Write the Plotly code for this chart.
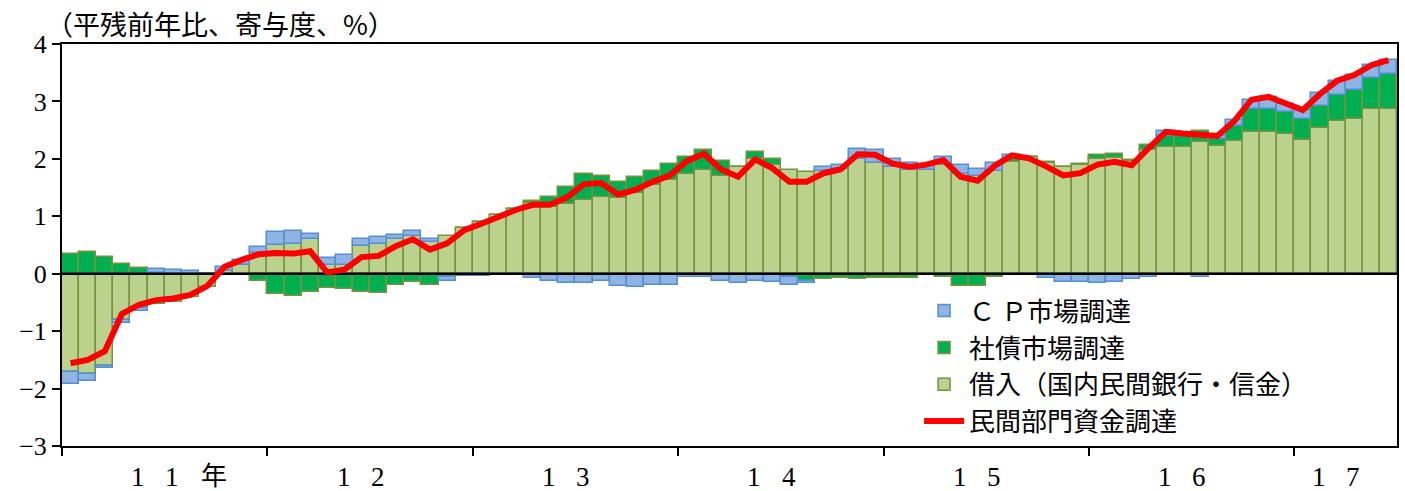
import plotly.graph_objects as go

# ---- data (monthly, Jan 2011 - Jun 2017) ----
loans = [-1.72, -1.74, -1.60, -0.81, -0.60, -0.53, -0.50, -0.41, -0.23, 0.05, 0.16, 0.36,
         0.50, 0.52, 0.60, 0.16, 0.16, 0.48, 0.51, 0.60, 0.65, 0.55, 0.65, 0.80,
         0.90, 1.02, 1.13, 1.24, 1.16, 1.21, 1.29, 1.34, 1.31, 1.41, 1.54, 1.64,
         1.74, 1.80, 1.70, 1.86, 1.99, 1.90, 1.80, 1.77, 1.79, 1.82, 2.00, 1.93,
         1.85, 1.81, 1.81, 1.90, 1.74, 1.70, 1.79, 1.95, 2.03, 1.93, 1.86, 1.89,
         2.00, 2.02, 1.97, 2.16, 2.21, 2.21, 2.29, 2.22, 2.31, 2.46, 2.47, 2.43,
         2.32, 2.53, 2.66, 2.70, 2.86, 2.86]
bonds = [0.35, 0.37, 0.29, 0.17, 0.10, 0.02, 0.00, 0.00, 0.00, 0.00, 0.00, -0.13,
         -0.36, -0.39, -0.31, -0.25, -0.26, -0.32, -0.33, -0.19, -0.15, -0.19, -0.06, 0.00,
         0.00, 0.00, 0.00, 0.02, 0.17, 0.30, 0.44, 0.36, 0.28, 0.27, 0.25, 0.27,
         0.29, 0.35, 0.26, 0.00, 0.13, 0.10, -0.06, -0.12, -0.10, -0.08, -0.10, -0.08,
         -0.07, -0.07, -0.02, -0.06, -0.21, -0.21, -0.05, 0.04, 0.00, 0.02, 0.00, 0.02,
         0.06, 0.07, 0.01, 0.09, 0.19, 0.20, 0.19, 0.12, 0.26, 0.40, 0.39, 0.39,
         0.38, 0.39, 0.45, 0.50, 0.54, 0.62]
cp = [-0.20, -0.12, -0.04, -0.05, -0.05, 0.06, 0.07, 0.05, 0.00, 0.07, 0.08, 0.11,
      0.22, 0.22, 0.10, 0.11, 0.17, 0.13, 0.13, 0.07, 0.10, 0.06, -0.06, -0.04,
      -0.04, -0.03, -0.02, -0.07, -0.13, -0.17, -0.17, -0.12, -0.21, -0.23, -0.19, -0.20,
      -0.05, -0.06, -0.13, -0.16, -0.13, -0.15, -0.14, -0.05, 0.07, 0.08, 0.18, 0.22,
      0.14, 0.12, 0.09, 0.14, 0.16, 0.13, 0.14, 0.07, -0.02, -0.07, -0.15, -0.15,
      -0.16, -0.15, -0.09, -0.05, 0.08, 0.03, -0.05, 0.06, 0.10, 0.16, 0.22, 0.14,
      0.15, 0.23, 0.25, 0.26, 0.23, 0.24]
total = [-1.56, -1.50, -1.35, -0.70, -0.54, -0.46, -0.43, -0.37, -0.21, 0.12, 0.24, 0.34,
         0.36, 0.35, 0.39, 0.02, 0.07, 0.29, 0.31, 0.48, 0.60, 0.42, 0.53, 0.76,
         0.87, 0.99, 1.11, 1.20, 1.20, 1.33, 1.56, 1.58, 1.38, 1.46, 1.60, 1.71,
         1.96, 2.09, 1.82, 1.69, 1.99, 1.84, 1.60, 1.60, 1.75, 1.82, 2.08, 2.07,
         1.92, 1.86, 1.90, 1.98, 1.69, 1.62, 1.88, 2.06, 2.01, 1.87, 1.71, 1.75,
         1.90, 1.95, 1.89, 2.19, 2.47, 2.44, 2.43, 2.40, 2.66, 3.03, 3.08, 2.96,
         2.85, 3.13, 3.36, 3.46, 3.63, 3.72]
years = ["1 1", "1 2", "1 3", "1 4", "1 5", "1 6", "1 7"]
months_in_year = [12, 12, 12, 12, 12, 12, 6]

names = {"cp": "Ｃ Ｐ市場調達", "bonds": "社債市場調達",
         "loans": "借入（国内民間銀行・信金）", "total": "民間部門資金調達"}

x = list(range(len(total)))
n = len(total)

CJK = "Noto Sans CJK JP"
SERIF = "Liberation Serif"

fig = go.Figure()
fig.add_trace(go.Bar(x=x, y=loans, name=names["loans"], legendrank=3, width=1,
                     marker=dict(color="#BBD18E", line=dict(color="#77933C", width=1.5))))
fig.add_trace(go.Bar(x=x, y=bonds, name=names["bonds"], legendrank=2, width=1,
                     marker=dict(color="#00B050", line=dict(color="#77933C", width=1.5))))
fig.add_trace(go.Bar(x=x, y=cp, name=names["cp"], legendrank=1, width=1,
                     marker=dict(color="#8DB4E2", line=dict(color="#558ED5", width=1.5))))
# zero line
fig.add_trace(go.Scatter(x=[-0.5, n - 0.5], y=[0, 0], mode="lines", showlegend=False,
                         line=dict(color="black", width=2.5), hoverinfo="skip"))
fig.add_trace(go.Scatter(x=x, y=total, name=names["total"], legendrank=4, mode="lines",
                         line=dict(color="#FF0000", width=6)))

# year boundaries
bounds = [-0.5]
for m in months_in_year:
    bounds.append(bounds[-1] + m)

annotations = []
for i, lab in enumerate(years):
    c = (bounds[i] + bounds[i + 1]) / 2 - 0.55
    d1, d2 = lab.split(" ")
    annotations.append(dict(x=c - 1.0, y=-0.077, xref="x", yref="paper", text=d1,
                            showarrow=False, font=dict(family=SERIF, size=27, color="black"),
                            xanchor="center", yanchor="middle"))
    annotations.append(dict(x=c + 1.0, y=-0.077, xref="x", yref="paper", text=d2,
                            showarrow=False, font=dict(family=SERIF, size=27, color="black"),
                            xanchor="center", yanchor="middle"))
    if i == 0:
        annotations.append(dict(x=c + 3.45, y=-0.068, xref="x", yref="paper", text="年",
                                showarrow=False, font=dict(family=CJK, size=26, color="black"),
                                xanchor="center", yanchor="middle"))

annotations.append(dict(x=-0.0135, y=1.05, xref="paper", yref="paper",
                        text="（平残前年比、寄与度、%）", showarrow=False,
                        font=dict(family=CJK, size=27, color="black"),
                        xanchor="left", yanchor="middle"))

fig.update_layout(
    width=1405, height=491,
    margin=dict(l=62, r=8, t=44, b=45),
    paper_bgcolor="white", plot_bgcolor="white",
    barmode="relative", bargap=0,
    showlegend=True,
    legend=dict(x=0.642, y=0.395, xanchor="left", yanchor="top",
                traceorder="normal", bgcolor="rgba(255,255,255,0)",
                font=dict(family=CJK, size=26, color="black"),
                itemwidth=40, tracegroupgap=0),
    annotations=annotations,
    xaxis=dict(range=[-0.5, n - 0.5], tickmode="array", tickvals=bounds[:-1],
               showticklabels=False, ticks="outside", ticklen=8, tickwidth=2,
               tickcolor="black", showline=True, linecolor="black", linewidth=2,
               mirror=True, showgrid=False, zeroline=False, automargin=False),
    yaxis=dict(range=[-3, 4], dtick=1, tick0=0, ticks="outside", ticklen=8, tickwidth=2,
               tickcolor="black", showline=True, linecolor="black", linewidth=2,
               mirror=True, showgrid=False, zeroline=False, automargin=False,
               tickfont=dict(family=SERIF, size=26, color="black")),
)

fig.write_html("out.html", config={"displayModeBar": False},
               post_script="document.body.style.margin='0px';")
